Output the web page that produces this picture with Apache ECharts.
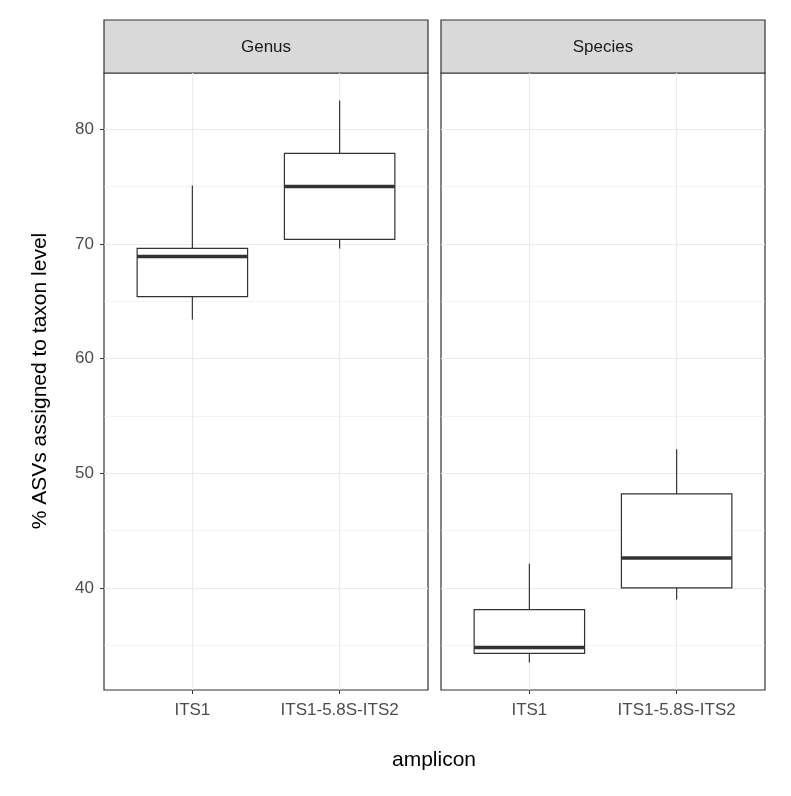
<!DOCTYPE html>
<html>
<head>
<meta charset="utf-8">
<title>ASVs</title>
<script src="https://cdn.jsdelivr.net/npm/echarts@6/dist/echarts.min.js"></script>
<style>body{margin:0;background:#fff}</style>
</head>
<body>
<div id="main" style="width:791px;height:796px;"></div>
<script>
// 数据
var panels = ['Genus', 'Species'];
var amplicons = ['ITS1', 'ITS1-5.8S-ITS2'];
// [low, Q1, median, Q3, high]
var genusBoxes = [[63.4, 65.4, 68.9, 69.6, 75.1], [69.6, 70.4, 75.0, 77.9, 82.5]];
var speciesBoxes = [[33.5, 34.3, 34.8, 38.1, 42.1], [39.0, 40.0, 42.6, 48.2, 52.1]];
var yMajor = [40, 50, 60, 70, 80];
var yMinor = [35, 45, 55, 65, 75];

var myChart = echarts.init(document.getElementById('main'));
var gridLeft = [104, 441];
var txt = '#4d4d4d';

function boxSeries(idx, boxes) {
    var lines = [];
    yMajor.forEach(function (v) { lines.push({yAxis: v, lineStyle: {width: 1.1}}); });
    yMinor.forEach(function (v) { lines.push({yAxis: v, lineStyle: {width: 0.6}}); });
    [1, 2].forEach(function (v) { lines.push({xAxis: v, lineStyle: {width: 1.1}}); });
    return {
        type: 'custom', xAxisIndex: idx, yAxisIndex: idx, z: 5,
        data: boxes.map(function (b, i) { return [i + 1].concat(b); }),
        markLine: {silent: true, symbol: 'none', label: {show: false}, z: 1,
            lineStyle: {color: '#ebebeb', type: 'solid'}, data: lines},
        renderItem: function (params, api) {
            var x = api.value(0);
            var pLow = api.coord([x, api.value(1)]);
            var pQ1 = api.coord([x - 0.375, api.value(2)]);
            var pMed = api.coord([x - 0.375, api.value(3)]);
            var pQ3 = api.coord([x + 0.375, api.value(4)]);
            var pHigh = api.coord([x, api.value(5)]);
            var st = {stroke: '#333', lineWidth: 1.2, fill: '#fff'};
            return {type: 'group', children: [
                {type: 'line', shape: {x1: pLow[0], y1: pLow[1], x2: pLow[0], y2: pQ1[1]}, style: st},
                {type: 'line', shape: {x1: pHigh[0], y1: pHigh[1], x2: pHigh[0], y2: pQ3[1]}, style: st},
                {type: 'rect', shape: {x: pQ1[0], y: pQ3[1], width: pQ3[0] - pQ1[0], height: pQ1[1] - pQ3[1]}, style: st},
                {type: 'line', shape: {x1: pQ1[0], y1: pMed[1], x2: pQ3[0], y2: pMed[1]}, style: {stroke: '#333', lineWidth: 3.5}}
            ]};
        }
    };
}

myChart.setOption({
    animation: false,
    grid: gridLeft.map(function (l) {
        return {left: l, top: 73, width: 324, height: 617, show: true,
            borderColor: '#333', borderWidth: 1.2, backgroundColor: 'transparent'};
    }),
    xAxis: [0, 1].map(function (i) {
        return {type: 'value', gridIndex: i, min: 0.4, max: 2.6,
            axisLine: {show: false}, splitLine: {show: false},
            axisTick: {show: true, length: 4, customValues: [1, 2], lineStyle: {color: '#333'}},
            axisLabel: {customValues: [1, 2], color: txt, fontSize: 17, fontFamily: 'Liberation Sans',
                margin: 12, formatter: function (v) { return amplicons[Math.round(v) - 1]; }}};
    }),
    yAxis: [0, 1].map(function (i) {
        return {type: 'value', gridIndex: i, min: 31.1, max: 84.9,
            axisLine: {show: false}, splitLine: {show: false},
            axisTick: {show: i === 0, length: 4, customValues: yMajor, lineStyle: {color: '#333'}},
            axisLabel: {show: i === 0, customValues: yMajor, color: txt, fontSize: 17,
                fontFamily: 'Liberation Sans', margin: 10}};
    }),
    graphic: [
        {type: 'rect', shape: {x: 104, y: 20, width: 324, height: 53}, style: {fill: '#d9d9d9', stroke: '#333', lineWidth: 1.2}},
        {type: 'rect', shape: {x: 441, y: 20, width: 324, height: 53}, style: {fill: '#d9d9d9', stroke: '#333', lineWidth: 1.2}},
        {type: 'text', x: 266, y: 47, style: {text: panels[0], fill: '#1a1a1a', font: '17px Liberation Sans', textAlign: 'center', textVerticalAlign: 'middle'}},
        {type: 'text', x: 603, y: 47, style: {text: panels[1], fill: '#1a1a1a', font: '17px Liberation Sans', textAlign: 'center', textVerticalAlign: 'middle'}},
        {type: 'text', x: 434, y: 760, style: {text: 'amplicon', fill: '#000', font: '21px Liberation Sans', textAlign: 'center', textVerticalAlign: 'middle'}},
        {type: 'text', x: 40, y: 381, rotation: Math.PI / 2, style: {text: '% ASVs assigned to taxon level', fill: '#000', font: '21px Liberation Sans', textAlign: 'center', textVerticalAlign: 'middle'}}
    ],
    series: [boxSeries(0, genusBoxes), boxSeries(1, speciesBoxes)]
});
</script>
</body>
</html>
